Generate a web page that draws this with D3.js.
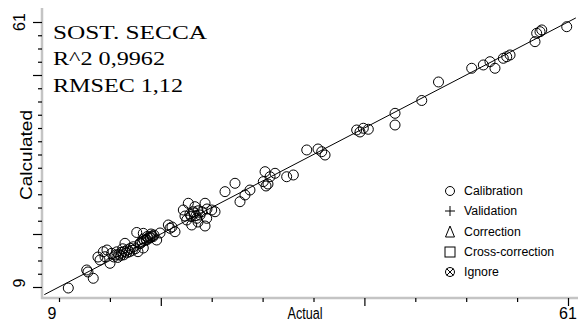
<!DOCTYPE html>
<html><head><meta charset="utf-8">
<script src="https://cdn.jsdelivr.net/npm/d3@7"></script>
<style>html,body{margin:0;padding:0;background:#fff;} svg{display:block;}</style>
</head><body><svg id="chart" width="580" height="322"></svg>
<script>
// Reference (actual) vs predicted (calculated) values, calibration set
const actual = [
  9.95, 11.83, 12.50, 11.96, 13.53, 14.38, 13.19, 14.21, 13.70, 13.90, 12.98,
  14.6, 14.8, 15.0, 15.1, 15.3, 15.4, 15.6, 15.7, 15.9, 16.0, 16.2, 16.3, 16.5, 16.6, 16.8, 14.9, 15.5,
  15.74, 16.94, 17.61, 17.28, 17.96, 18.30, 18.60, 18.98, 19.32, 17.61, 17.07,
  17.3, 17.5, 17.7, 17.9, 18.1, 18.3, 18.5, 18.7, 17.6, 18.0, 18.4,
  20.34, 20.17, 20.85, 20.54,
  22.21, 23.92, 21.70, 22.72, 23.58, 24.60, 22.05, 23.07, 24.09, 22.56, 23.92, 24.94, 22.89, 23.41, 22.38, 23.20, 21.87, 24.12,
  22.8, 23.2, 23.0, 22.5,
  25.96, 26.98, 27.49, 28.00, 28.51,
  30.05, 29.87, 30.56, 31.07, 32.26, 32.94, 30.35, 30.15,
  34.31, 35.84, 36.18, 35.46,
  39.41, 40.09, 40.60, 39.75,
  43.33, 43.33, 46.06, 47.77, 51.16, 52.35, 53.03, 53.54, 54.39, 54.74, 55.08, 57.63, 57.80, 58.14, 58.32, 60.87
];
const calculated = [
  8.8, 12.34, 10.71, 11.95, 15.93, 15.61, 14.30, 13.65, 14.94, 16.26, 14.88,
  14.9, 15.3, 14.8, 15.4, 15.2, 15.8, 15.3, 16.0, 15.7, 16.3, 15.9, 16.6, 16.2, 16.9, 16.5, 15.9, 16.5,
  17.57, 19.70, 19.53, 17.63, 18.22, 18.62, 18.87, 18.22, 19.60, 16.65, 15.93,
  17.5, 17.9, 18.1, 18.3, 18.6, 18.8, 19.0, 19.2, 18.4, 18.9, 19.4,
  20.52, 21.17, 19.85, 20.78,
  25.43, 25.43, 24.11, 23.77, 23.77, 24.11, 22.15, 22.48, 22.48, 21.17, 20.97, 23.77, 24.76, 23.13, 23.32, 21.75, 22.93, 24.31,
  23.54, 23.95, 23.02, 22.82,
  27.71, 29.35, 25.74, 27.06, 28.03,
  31.63, 29.67, 30.64, 31.31, 30.64, 30.98, 29.21, 28.82,
  35.89, 35.55, 34.90, 36.08,
  39.81, 40.15, 39.95, 39.42,
  43.08, 40.79, 45.60, 49.23, 51.92, 52.57, 53.21, 51.92, 53.88, 54.19, 54.53, 57.14, 58.79, 59.10, 59.44, 60.08
];

const axisRange = [9, 61];
const axisLabels = ["9", "61"];
const xTickValues = d3.range(11).map(k => 9 + k * 5.2);
const xMajorIdx = [2, 6, 10];
const yTickValues = d3.range(21).map(k => 9 + k * 2.6);
const yMajorIdx = [0, 4, 16, 20];
const fitEnds = [7.5, 61.8];
const statLines = ["SOST. SECCA", "R^2 0,9962", "RMSEC 1,12"];
const legendItems = ["Calibration", "Validation", "Correction", "Cross-correction", "Ignore"];

const svg = d3.select("#chart");
const x = d3.scaleLinear().domain(axisRange).range([59, 568]);
const y = d3.scaleLinear().domain(axisRange).range([287, 22]);

const axisX = 42, axisY = 298;
const sans = "'Liberation Sans Narrow','Liberation Sans',Arial,sans-serif";

// gray axis rails
svg.append("line").attr("x1", axisX).attr("x2", axisX).attr("y1", 8).attr("y2", axisY + 1)
  .attr("stroke", "#c4c4c4").attr("stroke-width", 2.5);
svg.append("line").attr("x1", axisX - 1).attr("x2", 578).attr("y1", axisY).attr("y2", axisY)
  .attr("stroke", "#c4c4c4").attr("stroke-width", 2.5);

function styleTicks(g) {
  g.select(".domain").remove();
  g.selectAll(".tick line").attr("stroke", "#000").attr("stroke-width", 1.2);
  g.selectAll(".tick text").remove();
}

// x ticks (minor and major)
svg.append("g").attr("transform", `translate(0,${axisY})`)
  .call(d3.axisBottom(x).tickValues(xTickValues.filter((v, i) => !xMajorIdx.includes(i))).tickSize(4).tickSizeOuter(0))
  .call(styleTicks);
svg.append("g").attr("transform", `translate(0,${axisY})`)
  .call(d3.axisBottom(x).tickValues(xTickValues.filter((v, i) => xMajorIdx.includes(i))).tickSize(8).tickSizeOuter(0))
  .call(styleTicks);

// y ticks (minor and major)
svg.append("g").attr("transform", `translate(${axisX},0)`)
  .call(d3.axisLeft(y).tickValues(yTickValues.filter((v, i) => !yMajorIdx.includes(i))).tickSize(4).tickSizeOuter(0))
  .call(styleTicks);
svg.append("g").attr("transform", `translate(${axisX},0)`)
  .call(d3.axisLeft(y).tickValues(yTickValues.filter((v, i) => yMajorIdx.includes(i))).tickSize(9).tickSizeOuter(0))
  .call(styleTicks);

// axis end labels
svg.append("text").attr("x", x(axisRange[0]) - 7).attr("y", 319).attr("text-anchor", "middle")
  .attr("font-family", sans).attr("font-size", 16).text(axisLabels[0]);
svg.append("text").attr("x", x(axisRange[1])).attr("y", 319).attr("text-anchor", "middle")
  .attr("font-family", sans).attr("font-size", 16).text(axisLabels[1]);
svg.append("text").attr("transform", `translate(25,${y(axisRange[0]) - 4}) rotate(-90)`).attr("text-anchor", "middle")
  .attr("font-family", sans).attr("font-size", 16).text(axisLabels[0]);
svg.append("text").attr("transform", `translate(25,${y(axisRange[1])}) rotate(-90)`).attr("text-anchor", "middle")
  .attr("font-family", sans).attr("font-size", 16).text(axisLabels[1]);

// axis titles
svg.append("text").attr("x", 305).attr("y", 319).attr("text-anchor", "middle")
  .attr("font-family", sans).attr("font-size", 16).attr("textLength", 35).attr("lengthAdjust", "spacingAndGlyphs")
  .text("Actual");
svg.append("text").attr("transform", "translate(32,155) rotate(-90)").attr("text-anchor", "middle")
  .attr("font-family", sans).attr("font-size", 17).attr("textLength", 90).attr("lengthAdjust", "spacingAndGlyphs")
  .text("Calculated");

// fitted line
svg.append("line")
  .attr("x1", x(fitEnds[0])).attr("y1", y(fitEnds[0]))
  .attr("x2", x(fitEnds[1])).attr("y2", y(fitEnds[1]))
  .attr("stroke", "#000").attr("stroke-width", 1);

// calibration samples
svg.append("g").selectAll("circle")
  .data(actual.map((a, i) => [a, calculated[i]]))
  .join("circle")
  .attr("cx", d => x(d[0])).attr("cy", d => y(d[1])).attr("r", 5)
  .attr("fill", "none").attr("stroke", "#000").attr("stroke-width", 1);

// statistics block
const statWidths = [154, 112, 130];
const statBase = [38.5, 65, 91.5];
statLines.forEach((t, i) => {
  svg.append("text").attr("x", 53).attr("y", statBase[i])
    .attr("font-family", "'Liberation Serif','Times New Roman',serif").attr("font-size", 18)
    .attr("textLength", statWidths[i]).attr("lengthAdjust", "spacingAndGlyphs").text(t);
});

// legend
const lg = svg.append("g");
const rowY = [191, 211, 232, 252, 272];
const mx = 450;
legendItems.forEach((t, i) => {
  lg.append("text").attr("x", 464).attr("y", rowY[i] + 4)
    .attr("font-family", "'Liberation Sans',Arial,sans-serif").attr("font-size", 12.3).text(t);
});
const ms = {fill: "none", stroke: "#000", "stroke-width": 1};
function st(sel) { Object.entries(ms).forEach(([k, v]) => sel.attr(k, v)); return sel; }
st(lg.append("circle").attr("cx", mx).attr("cy", rowY[0]).attr("r", 4.5));
st(lg.append("path").attr("d", `M${mx - 5},${rowY[1]}H${mx + 5}M${mx},${rowY[1] - 5}V${rowY[1] + 5}`));
st(lg.append("path").attr("d", `M${mx},${rowY[2] - 6}L${mx - 4.5},${rowY[2] + 5}H${mx + 4.5}Z`));
st(lg.append("rect").attr("x", mx - 5).attr("y", rowY[3] - 5).attr("width", 10).attr("height", 10));
st(lg.append("circle").attr("cx", mx).attr("cy", rowY[4]).attr("r", 4.5));
st(lg.append("path").attr("d", `M${mx - 3.5},${rowY[4] - 3.5}L${mx + 3.5},${rowY[4] + 3.5}M${mx + 3.5},${rowY[4] - 3.5}L${mx - 3.5},${rowY[4] + 3.5}`));
</script>
</body></html>
